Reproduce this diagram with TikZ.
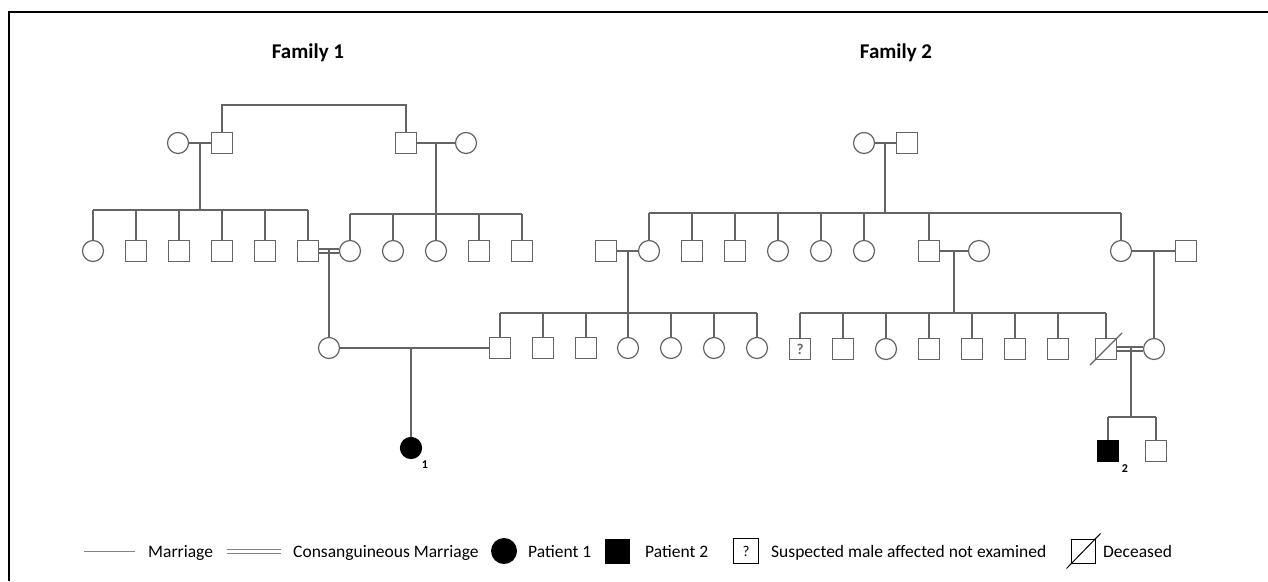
\documentclass[tikz,border=0pt]{standalone}
\usepackage{fontspec}
\setmainfont{Carlito}
\usetikzlibrary{calc}
\definecolor{ln}{RGB}{100,100,100}
\tikzset{
  pline/.style={draw=ln,line width=1.2pt},
  male/.style={rectangle,draw=ln,line width=1.2pt,minimum width=21pt,minimum height=21pt,inner sep=0pt,fill=white},
  female/.style={circle,draw=ln,line width=1.2pt,minimum size=21pt,inner sep=0pt,fill=white},
  affected/.style={fill=black,draw=black},
  famtitle/.style={font=\fontsize{21}{25}\selectfont\bfseries,anchor=base,inner sep=0pt},
  legtext/.style={font=\fontsize{17.5}{21}\selectfont,anchor=base west,inner sep=0pt},
  patlabel/.style={font=\fontsize{12}{14}\selectfont\bfseries,anchor=base,inner sep=0pt},
}
\begin{document}
\begin{tikzpicture}[x=1pt,y=-1pt]
\useasboundingbox (0,0) rectangle (1268,581);
% frame
\draw[line width=2pt,black] (9,581) -- (9,12) -- (1268,12);

% ---------------- Family 1 ----------------
\node[famtitle] (fam1) at (308,58) {Family 1};
\node[female] (f1a) at (178,143) {};
\node[male]   (f1b) at (222,143) {};
\node[male]   (f1c) at (406,143) {};
\node[female] (f1d) at (466,143) {};
\coordinate (f1top) at (222,105);
\draw[pline] (f1b.north) -- (f1top) -| (f1c.north);
\draw[pline] (f1a) -- (f1b);
\draw[pline] (f1c) -- (f1d);
\coordinate (m1) at (200,143);
\coordinate (s1) at (200,210);
\coordinate (m2) at (436,143);
\coordinate (s2) at (436,214);
\draw[pline] (m1) -- (s1);
\draw[pline] (m2) -- (s2);

% generation II, left sibship
\node[female] (g2a) at (93,251) {};
\node[male]   (g2b) at (136,251) {};
\node[male]   (g2c) at (179,251) {};
\node[male]   (g2d) at (222,251) {};
\node[male]   (g2e) at (265,251) {};
\node[male]   (g2f) at (308,251) {};
\draw[pline] (g2a.north |- s1) -- (g2f.north |- s1);
\foreach \n in {g2a,g2b,g2c,g2d,g2e,g2f} \draw[pline] (\n.north) -- (\n.north |- s1);

% generation II, right sibship
\node[female] (g2g) at (350,251) {};
\node[female] (g2h) at (393,251) {};
\node[female] (g2i) at (436,251) {};
\node[male]   (g2j) at (479,251) {};
\node[male]   (g2k) at (522,251) {};
\draw[pline] (g2g.north |- s2) -- (g2k.north |- s2);
\foreach \n in {g2g,g2h,g2i,g2j,g2k} \draw[pline] (\n.north) -- (\n.north |- s2);

% consanguineous marriage
\draw[pline] ([yshift=2pt]g2f.east) -- ([yshift=2pt]g2g.west);
\draw[pline] ([yshift=-2pt]g2f.east) -- ([yshift=-2pt]g2g.west);
\coordinate (m3) at (329,249);
\node[female] (g3a) at (329,348) {};
\draw[pline] (m3) -- (g3a.north);

% ---------------- Family 2 ----------------
\node[famtitle] (fam2) at (896,58) {Family 2};
\node[female] (k1a) at (864,143) {};
\node[male]   (k1b) at (907,143) {};
\draw[pline] (k1a) -- (k1b);
\coordinate (km) at (885,143);
\coordinate (ks) at (885,213);
\draw[pline] (km) -- (ks);

\node[male]   (k2a) at (606,251) {};
\node[female] (k2b) at (649,251) {};
\node[male]   (k2c) at (692,251) {};
\node[male]   (k2d) at (735,251) {};
\node[female] (k2e) at (778,251) {};
\node[female] (k2f) at (821,251) {};
\node[female] (k2g) at (864,251) {};
\node[male]   (k2h) at (929,251) {};
\node[female] (k2i) at (979,251) {};
\node[female] (k2j) at (1121,251) {};
\node[male]   (k2k) at (1186,251) {};
\draw[pline] (k2b.north |- ks) -- (k2j.north |- ks);
\foreach \n in {k2b,k2c,k2d,k2e,k2f,k2g,k2h,k2j} \draw[pline] (\n.north) -- (\n.north |- ks);

% marriages in generation II
\draw[pline] (k2a) -- (k2b);
\draw[pline] (k2h) -- (k2i);
\draw[pline] (k2j) -- (k2k);
\coordinate (km1) at (628,251);
\coordinate (ks1) at (628,313);
\coordinate (km2) at (954,251);
\coordinate (ks2) at (954,313);
\coordinate (km3) at (1154,251);
\draw[pline] (km1) -- (ks1);
\draw[pline] (km2) -- (ks2);

% generation III, left sibship
\node[male]   (h3a) at (500,348) {};
\node[male]   (h3b) at (543,348) {};
\node[male]   (h3c) at (586,348) {};
\node[female] (h3d) at (628,348) {};
\node[female] (h3e) at (671,348) {};
\node[female] (h3f) at (714,348) {};
\node[female] (h3g) at (757,348) {};
\draw[pline] (h3a.north |- ks1) -- (h3g.north |- ks1);
\foreach \n in {h3a,h3b,h3c,h3d,h3e,h3f,h3g} \draw[pline] (\n.north) -- (\n.north |- ks1);

% marriage generation III (Family 1 daughter x Family 2 son)
\draw[pline] (g3a) -- (h3a);
\coordinate (m4) at (411,348);
\node[female,affected] (p1) at (411,448) {};
\draw[pline] (m4) -- (p1.north);
\node[patlabel] (p1lab) at (425,468) {1};

% generation III, right sibship
\node[male,font=\fontsize{15}{15}\selectfont\bfseries\color{ln}] (j3a) at (800,349) {?};
\node[male]   (j3b) at (843,349) {};
\node[female] (j3c) at (886,349) {};
\node[male]   (j3d) at (929,349) {};
\node[male]   (j3e) at (972,349) {};
\node[male]   (j3f) at (1015,349) {};
\node[male]   (j3g) at (1058,349) {};
\node[male]   (j3h) at (1106,349) {};
\draw[pline] ([shift={(-5,5)}]j3h.south west) -- ([shift={(5,-5)}]j3h.north east);
\draw[pline] (j3a.north |- ks2) -- (j3h.north |- ks2);
\foreach \n in {j3a,j3b,j3c,j3d,j3e,j3f,j3g,j3h} \draw[pline] (\n.north) -- (\n.north |- ks2);

\node[female] (j3i) at (1154,349) {};
\draw[pline] (km3) -- (j3i.north);
\draw[pline] ([yshift=2pt]j3h.east) -- ([yshift=2pt]j3i.west);
\draw[pline] ([yshift=-2pt]j3h.east) -- ([yshift=-2pt]j3i.west);
\coordinate (m5) at (1131,347);
\coordinate (s5) at (1131,417);
\draw[pline] (m5) -- (s5);
\node[male,affected] (p2) at (1108,451) {};
\node[male] (j4b) at (1156,451) {};
\draw[pline] (p2.north |- s5) -- (j4b.north |- s5);
\foreach \n in {p2,j4b} \draw[pline] (\n.north) -- (\n.north |- s5);
\node[patlabel] (p2lab) at (1125,472) {2};

% ---------------- Legend ----------------
\coordinate (la) at (84,551);
\coordinate (lb) at (135,551);
\draw[draw=ln!80,line width=1pt] (la) -- (lb);
\node[legtext] (t1) at (148,557) {Marriage};
\coordinate (lc) at (227,549);
\coordinate (ld) at (281,549);
\coordinate (le) at (227,553);
\coordinate (lf) at (281,553);
\draw[draw=ln!80,line width=1pt] (lc) -- (ld);
\draw[draw=ln!80,line width=1pt] (le) -- (lf);
\node[legtext] (t2) at (293,557) {Consanguineous Marriage};
\node[circle,fill=black,minimum size=26pt,inner sep=0pt] (lcirc) at (504,551) {};
\node[legtext] (t3) at (528,557) {Patient 1};
\node[rectangle,fill=black,minimum size=25pt,inner sep=0pt] (lsq) at (617,551) {};
\node[legtext] (t4) at (645,557) {Patient 2};
\node[rectangle,draw=black,line width=1pt,minimum size=25pt,inner sep=0pt,font=\fontsize{15}{15}\selectfont] (lq) at (746,551) {?};
\node[legtext] (t5) at (771,557) {Suspected male affected not examined};
\node[rectangle,draw=black,line width=1pt,minimum size=24pt,inner sep=0pt] (ldec) at (1083,551) {};
\draw[black,line width=1pt] ([shift={(-4,5)}]ldec.south west) -- ([shift={(5,-5)}]ldec.north east);
\node[legtext] (t6) at (1103,557) {Deceased};
\end{tikzpicture}
\end{document}
